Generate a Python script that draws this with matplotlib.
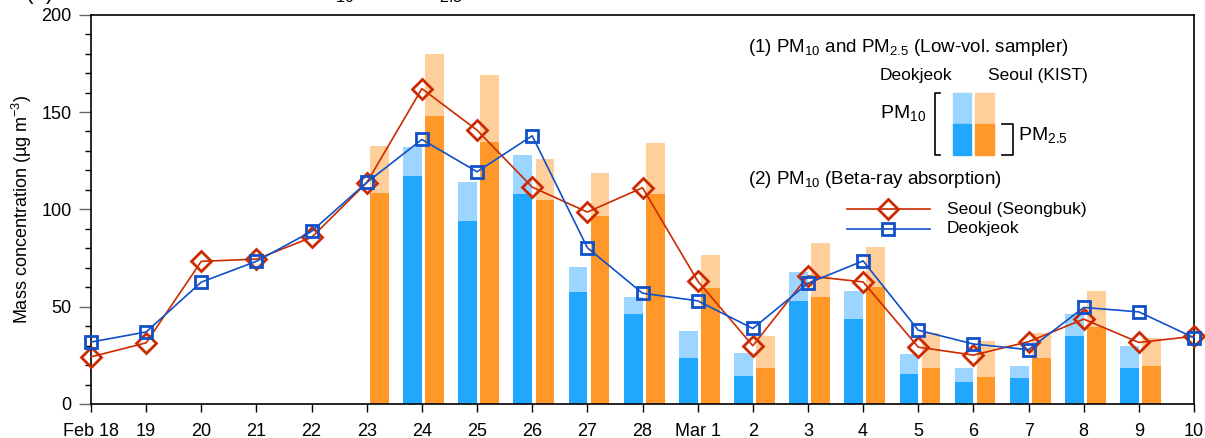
import numpy as np
import matplotlib
matplotlib.use('Agg')
import matplotlib.pyplot as plt
from matplotlib.ticker import MultipleLocator

plt.rcParams['font.family'] = ['Liberation Sans', 'DejaVu Sans']
plt.rcParams['mathtext.fontset'] = 'custom'
plt.rcParams['mathtext.rm'] = 'Liberation Sans'
plt.rcParams['mathtext.it'] = 'Liberation Sans:italic'
plt.rcParams['mathtext.bf'] = 'Liberation Sans:bold'

# dates Feb 18 .. Mar 10
day_labels = ['Feb 18', '19', '20', '21', '22', '23', '24', '25', '26', '27', '28',
              'Mar 1', '2', '3', '4', '5', '6', '7', '8', '9', '10']

# low-vol sampler (Feb 23 .. Mar 9)
nan = np.nan
deok_pm10 = [nan, 132, 114, 128, 70.6, 55.2, 37.4, 26, 67.9, 58.1, 25.5, 18.3, 19.3, 46.3, 29.9]
deok_pm25 = [nan, 117, 94, 108, 57.6, 46, 23.7, 14.5, 52.8, 43.9, 15.2, 11.1, 13.5, 34.7, 18.3]
seoul_pm10 = [132.8, 180, 169, 126, 118.5, 134, 76.5, 34.7, 82.6, 80.9, 36.4, 32.3, 36.4, 58.3, 33.7]
seoul_pm25 = [108.5, 148, 134.5, 104.8, 96.6, 107.7, 59.6, 18.3, 55.2, 60.3, 18.3, 13.8, 23.7, 39.8, 19.7]
bar_start = 5  # Feb 23

# beta-ray absorption PM10 (Feb 18 .. Mar 10)
seoul_beta = [24.2, 31.4, 73.3, 74.4, 85.6, 113.7, 162, 140.7, 111.4, 98.6, 111.1,
              63.2, 29.9, 65.8, 62.7, 29.2, 25.1, 32, 43.6, 31.6, 34.8]
deok_beta = [31.8, 37.0, 62.6, 73.3, 88.7, 113.8, 135.9, 119.3, 137.8, 80.3, 56.9,
             53, 38.8, 62, 73.5, 37.9, 30.8, 27.9, 49.6, 47.3, 34.0]

c_blue_lt = '#9CD5FF'
c_blue_dk = '#22A7FF'
c_org_lt = '#FFCF9B'
c_org_dk = '#FF9828'
c_red = '#CC2A00'
c_navy = '#1050C8'

fig = plt.figure(figsize=(12.05, 4.38), dpi=100)
ax = fig.add_axes([0.0755, 0.0777, 0.9154, 0.8887])

x = np.arange(len(day_labels))
xb = x[bar_start:bar_start + len(deok_pm10)]
w = 0.34
ax.bar(xb - 0.17, deok_pm10, w, color=c_blue_lt, zorder=1)
ax.bar(xb - 0.17, deok_pm25, w, color=c_blue_dk, zorder=1)
ax.bar(xb + 0.23, seoul_pm10, w, color=c_org_lt, zorder=1)
ax.bar(xb + 0.23, seoul_pm25, w, color=c_org_dk, zorder=1)

ax.plot(x, seoul_beta, color=c_red, lw=1.2, marker='D', ms=10, mfc='none',
        mec=c_red, mew=2, zorder=3, clip_on=False)
ax.plot(x, deok_beta, color=c_navy, lw=1.2, marker='s', ms=9, mfc='none',
        mec=c_navy, mew=2, zorder=3, clip_on=False)

ax.set_xlim(0, 20)
ax.set_ylim(0, 200)
ax.set_xticks(x)
ax.set_xticklabels(day_labels)
ax.yaxis.set_major_locator(MultipleLocator(50))
ax.yaxis.set_minor_locator(MultipleLocator(10))
ax.tick_params(axis='y', which='major', length=9, width=1, color='#666666',
               labelsize=13, pad=5)
ax.tick_params(axis='y', which='minor', length=4.5, width=1, color='black')
ax.tick_params(axis='x', which='major', length=6, width=1, labelsize=13, pad=8)
for s in ax.spines.values():
    s.set_linewidth(1.2)
ax.set_ylabel('Mass concentration (\u00b5g m$^{-3}$)', fontsize=13, labelpad=5)

# custom legend
T = ax.transAxes
ax.text(0.5956, 0.917, '(1) PM$_{10}$ and PM$_{2.5}$ (Low-vol. sampler)', transform=T,
        fontsize=13.5, va='center', ha='left')
ax.text(0.7153, 0.845, 'Deokjeok', transform=T, fontsize=12.5, va='center', ha='left')
ax.text(0.813, 0.845, 'Seoul (KIST)', transform=T, fontsize=12.5, va='center', ha='left')
ax.add_patch(plt.Rectangle((0.7815, 0.7193), 0.016, 0.0804, color=c_blue_lt, transform=T))
ax.add_patch(plt.Rectangle((0.7815, 0.6396), 0.016, 0.0797, color=c_blue_dk, transform=T))
ax.add_patch(plt.Rectangle((0.8014, 0.7193), 0.0173, 0.0804, color=c_org_lt, transform=T))
ax.add_patch(plt.Rectangle((0.8014, 0.6396), 0.0173, 0.0797, color=c_org_dk, transform=T))
ax.plot([0.7697, 0.7652, 0.7652, 0.7697], [0.7997, 0.7997, 0.6396, 0.6396],
        color='black', lw=1.2, transform=T)
ax.plot([0.8256, 0.8361, 0.8361, 0.8256], [0.7193, 0.7193, 0.6396, 0.6396],
        color='black', lw=1.2, transform=T)
ax.text(0.757, 0.7475, 'PM$_{10}$', transform=T, fontsize=14, va='center', ha='right')
ax.text(0.8404, 0.69, 'PM$_{2.5}$', transform=T, fontsize=14, va='center', ha='left')
ax.text(0.5956, 0.5754, '(2) PM$_{10}$ (Beta-ray absorption)', transform=T,
        fontsize=13.5, va='center', ha='left')
ax.plot([0.6854, 0.7607], [0.5001, 0.5001], color=c_red, lw=1.2, transform=T)
ax.plot([0.7226], [0.5001], marker='D', ms=10, mfc='none', mec=c_red, mew=2,
        color=c_red, transform=T)
ax.plot([0.6854, 0.7607], [0.4495, 0.4495], color=c_navy, lw=1.2, transform=T)
ax.plot([0.7226], [0.4495], marker='s', ms=9, mfc='none', mec=c_navy, mew=2,
        color=c_navy, transform=T)
ax.text(0.7758, 0.5001, 'Seoul (Seongbuk)', transform=T, fontsize=12.5, va='center', ha='left')
ax.text(0.7758, 0.4495, 'Deokjeok', transform=T, fontsize=12.5, va='center', ha='left')

# panel title, sitting just above the top edge (only its lowest parts show)
fig.text(0.021, 1.003, '(a) Mass concentrations of PM$_{10}$ and PM$_{2.5}$',
         fontsize=16.5, ha='left', va='baseline')

fig.savefig('out.png', dpi=100)
